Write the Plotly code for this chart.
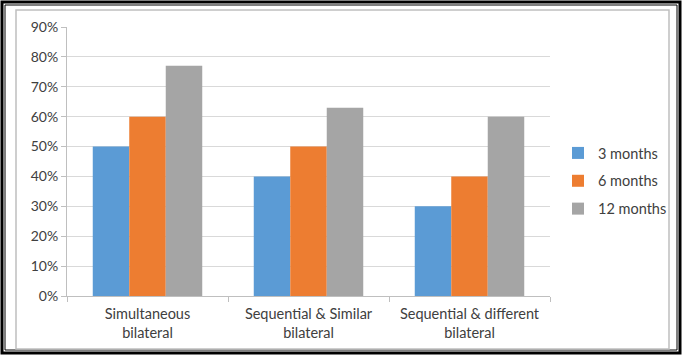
import plotly.graph_objects as go

categories = ["Simultaneous<br>bilateral", "Sequential & Similar<br>bilateral", "Sequential & different<br>bilateral"]
series_names = ["3 months", "6 months", "12 months"]
vals_3m = [50, 40, 30]
vals_6m = [60, 50, 40]
vals_12m = [77, 63, 60]
colors = ["#5b9bd5", "#ed7d31", "#a5a5a5"]
tick_vals = [0, 10, 20, 30, 40, 50, 60, 70, 80, 90]
tick_text = [f"{v}%" for v in tick_vals]

W, H = 685, 356
L, R, T, B = 67, 550, 27, 296

def px(x):
    return (x - L) / (R - L)

def py(y):
    return (B - y) / (B - T)

fig = go.Figure()
for name, vals, c in zip(series_names, [vals_3m, vals_6m, vals_12m], colors):
    fig.add_trace(go.Bar(x=categories, y=vals, name=name, marker=dict(color=c, line=dict(width=0)),
                         legendgroup=name))

font = dict(family="Lato, 'Open Sans', sans-serif", size=14, color="#404040")
fig.update_layout(
    width=W, height=H,
    margin=dict(l=L, r=W - R, t=T, b=H - B, autoexpand=False),
    paper_bgcolor="white", plot_bgcolor="white",
    barmode="group", bargap=0.32, bargroupgap=0,
    font=font,
    showlegend=True,
    legend=dict(x=px(558), y=py(137), xanchor="left", yanchor="top",
                bgcolor="rgba(0,0,0,0)",
                traceorder="grouped", tracegroupgap=6, font=dict(size=14.5, color="#404040"),
                itemwidth=30),
    xaxis=dict(type="category", showgrid=False, showline=True, linecolor="#bfbfbf", linewidth=1,
               ticks="outside", tickson="boundaries", ticklen=5, tickcolor="#bfbfbf",
               ticklabelstandoff=5, automargin=False,
               tickfont=dict(size=14.5, color="#404040")),
    yaxis=dict(range=[0, 90], tickvals=tick_vals, ticktext=tick_text, showgrid=True,
               gridcolor="#d9d9d9", gridwidth=1, showline=True, linecolor="#bfbfbf", linewidth=1,
               ticks="outside", ticklen=5, tickcolor="#bfbfbf", zeroline=False, automargin=False,
               tickfont=dict(size=14, color="#404040")),
)

shapes = [
    dict(type="rect", xref="paper", yref="paper", x0=px(2), x1=px(680), y0=py(2), y1=py(353),
         line=dict(color="black", width=3)),
    dict(type="rect", xref="paper", yref="paper", x0=px(5), x1=px(677), y0=py(5), y1=py(350),
         line=dict(color="black", width=1)),
    dict(type="rect", xref="paper", yref="paper", x0=px(16), x1=px(669), y0=py(10), y1=py(349),
         line=dict(color="#bfbfbf", width=1.5)),
]
fig.update_layout(shapes=shapes)

fig.write_html("out.html", config={"displayModeBar": False},
               post_script="document.body.style.margin='0';document.body.style.padding='0';document.body.style.overflow='hidden';")
